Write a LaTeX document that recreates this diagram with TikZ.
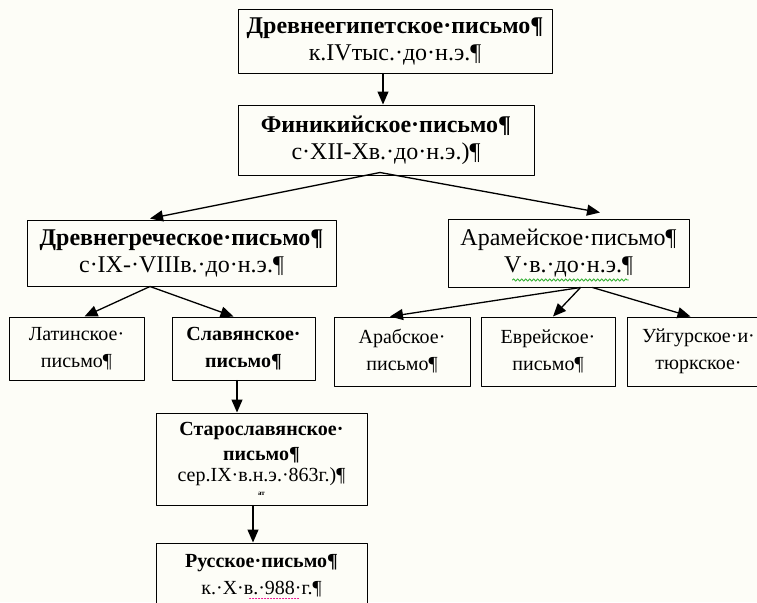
\documentclass[tikz,border=0pt]{standalone}
\usepackage{fontspec}
\setmainfont{Liberation Serif}
\usetikzlibrary{arrows.meta}
\usetikzlibrary{decorations.pathmorphing}
\definecolor{paper}{RGB}{253,253,247}
\definecolor{spellgreen}{RGB}{40,170,40}

\begin{document}
\begin{tikzpicture}[x=1pt,y=-1pt,line cap=round,line join=round,
  >={Triangle[length=13pt,width=11pt]},
  blk/.style={draw,line width=1pt,fill=paper,inner sep=0pt,align=center,
    font=\fontsize{20}{27}\selectfont},
  bigblk/.style={blk,font=\fontsize{24}{27}\selectfont},
  lnk/.style={->,line width=1.3pt}]
\fill[paper] (0,0) rectangle (757,602);
\clip (0,0) rectangle (757,602);
% top of the tree
\node[bigblk,minimum width=314pt,minimum height=63pt] (egypt) at (395,41.5)
  {\textbf{Древнеегипетское·письмо¶}\\к.IVтыс.·до·н.э.¶};
\node[bigblk,minimum width=296pt,minimum height=70pt] (phoen) at (386,140)
  {\textbf{Финикийское·письмо¶}\\с·XII-Хв.·до·н.э.)¶};
\node[bigblk,minimum width=309pt,minimum height=66pt] (greek) at (181.5,253)
  {\textbf{Древнегреческое·письмо¶}\\с·IX-·VIIIв.·до·н.э.¶};
\node[bigblk,minimum width=241pt,minimum height=68pt] (aram) at (568.5,253)
  {Арамейское·письмо¶\\V·в.·до·н.э.¶};
% third row
\node[blk,minimum width=135pt,minimum height=63pt] (latin) at (76.5,348.5)
  {Латинское·\\письмо¶};
\node[blk,minimum width=143pt,minimum height=63pt] (slav) at (243.5,348.5)
  {\textbf{Славянское·}\\\textbf{письмо¶}};
\node[blk,minimum width=136pt,minimum height=69pt] (arab) at (402,351.5)
  {Арабское·\\письмо¶};
\node[blk,minimum width=134pt,minimum height=69pt] (hebr) at (548,351.5)
  {Еврейское·\\письмо¶};
\node[blk,minimum width=143pt,minimum height=69pt] (uigur) at (698.5,351.5)
  {Уйгурское·и·\\тюркское·};
% slavonic branch
\node[blk,minimum width=211pt,minimum height=92pt] (oldsl) at (261.5,459)
  {\textbf{Старославянское·}\\[-2pt]\textbf{письмо¶}\\[-6pt]сер.IX·в.н.э.·863г.)¶\\[-13pt]{\fontsize{7}{7}\selectfont\textbf{ат}}};
\node[blk,minimum width=211pt,minimum height=66pt] (russ) at (261.5,576)
  {\textbf{Русское·письмо¶}\\к.·Х·в.·988·г.¶};
% arrows
\draw[lnk] ([xshift=-12pt]egypt.south) -- ([xshift=-3pt]phoen.north);
\draw[lnk] ([xshift=-6pt,yshift=3pt]phoen.south) -- ([xshift=-31.5pt,yshift=1pt]greek.north);
\draw[lnk] ([xshift=-6pt,yshift=3pt]phoen.south) -- ([xshift=31.5pt,yshift=6pt]aram.north);
\draw[lnk] ([xshift=-31.5pt]greek.south) -- ([xshift=8pt]latin.north);
\draw[lnk] ([xshift=-31.5pt]greek.south) -- ([xshift=-10pt]slav.north);
\draw[lnk] ([xshift=12pt]aram.south) -- ([xshift=-12pt]arab.north);
\draw[lnk] ([xshift=12pt]aram.south) -- ([xshift=5pt]hebr.north);
\draw[lnk] ([xshift=24pt]aram.south) -- ([xshift=-8pt]uigur.north);
\draw[lnk] ([xshift=-6.5pt]slav.south) -- ([xshift=-24.5pt]oldsl.north);
\draw[lnk] ([xshift=-8.5pt]oldsl.south) -- ([xshift=-8.5pt]russ.north);
% proofing marks under the dates
\draw[spellgreen,line width=0.8pt,decorate,decoration={snake,amplitude=1.2pt,segment length=4pt}]
  ([xshift=-56pt,yshift=-27pt]aram.center) -- ([xshift=60pt,yshift=-27pt]aram.center);
\draw[magenta,dotted,line width=1pt] ([xshift=-12pt,yshift=-22pt]russ.center) -- ([xshift=38pt,yshift=-22pt]russ.center);
\end{tikzpicture}
\end{document}
